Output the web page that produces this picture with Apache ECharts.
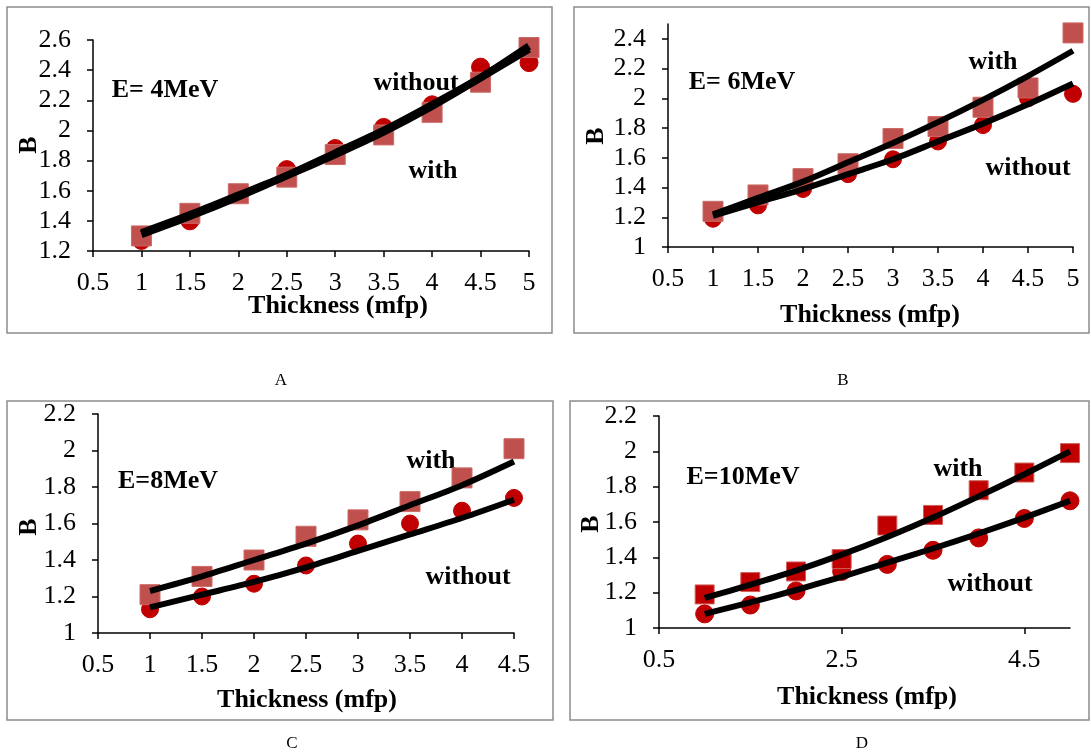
<!DOCTYPE html>
<html>
<head>
<meta charset="utf-8">
<script src="https://cdn.jsdelivr.net/npm/echarts@6/dist/echarts.min.js"></script>
<style>
  html, body { margin: 0; padding: 0; background: #fff; }
  #main { width: 1091px; height: 754px; }
</style>
</head>
<body>
<div id="main"></div>
<script>
// thickness values (mfp)
var thick9 = [1, 1.5, 2, 2.5, 3, 3.5, 4, 4.5, 5];
var thick8 = [1, 1.5, 2, 2.5, 3, 3.5, 4, 4.5];

// A: E = 4 MeV
var withA = [1.30, 1.45, 1.58, 1.69, 1.84, 1.97, 2.12, 2.32, 2.55];
var withoutA = [1.27, 1.40, 1.58, 1.74, 1.88, 2.02, 2.17, 2.42, 2.45];
var fitWithA = [1.32, 1.44, 1.57, 1.70, 1.84, 1.99, 2.16, 2.35, 2.56];
var fitWithoutA = [1.31, 1.43, 1.56, 1.70, 1.85, 2.00, 2.17, 2.35, 2.54];

// B: E = 6 MeV
var withB = [1.24, 1.35, 1.46, 1.56, 1.73, 1.81, 1.94, 2.07, 2.44];
var withoutB = [1.19, 1.28, 1.39, 1.49, 1.59, 1.71, 1.82, 2.00, 2.03];
var fitWithB = [1.22, 1.33, 1.44, 1.57, 1.70, 1.84, 1.99, 2.15, 2.32];
var fitWithoutB = [1.21, 1.30, 1.39, 1.49, 1.59, 1.71, 1.83, 1.96, 2.10];

// C: E = 8 MeV
var withC = [1.21, 1.31, 1.40, 1.53, 1.62, 1.72, 1.85, 2.01];
var withoutC = [1.13, 1.20, 1.27, 1.37, 1.49, 1.60, 1.67, 1.74];
var fitWithC = [1.23, 1.31, 1.40, 1.49, 1.59, 1.70, 1.81, 1.94];
var fitWithoutC = [1.14, 1.21, 1.28, 1.36, 1.45, 1.54, 1.63, 1.73];

// D: E = 10 MeV
var withD = [1.19, 1.26, 1.32, 1.39, 1.58, 1.64, 1.78, 1.88, 1.99];
var withoutD = [1.08, 1.13, 1.21, 1.32, 1.36, 1.44, 1.51, 1.62, 1.72];
var fitWithD = [1.17, 1.245, 1.325, 1.415, 1.515, 1.625, 1.745, 1.87, 2.00];
var fitWithoutD = [1.08, 1.145, 1.215, 1.29, 1.37, 1.45, 1.535, 1.625, 1.72];

// tick labels
var yTicksB = [1, 1.2, 1.4, 1.6, 1.8, 2, 2.2, 2.4];
var xTicksD = [0.5, 2.5, 4.5];

var serif = 'Liberation Serif';
var tickFont = 26;

function zip(xs, ys) {
    return xs.map(function (x, i) { return [x, ys[i]]; });
}

function xAx(idx, max, extra) {
    var ax = {
        type: 'value', gridIndex: idx, min: 0.5, max: max, interval: 0.5,
        splitLine: {show: false},
        axisLine: {onZero: false, lineStyle: {color: '#000', width: 1.5}},
        axisTick: {length: 6, lineStyle: {color: '#000', width: 1.5}},
        axisLabel: {color: '#000', fontFamily: serif, fontSize: tickFont, margin: 19}
    };
    return Object.assign(ax, extra || {});
}

function yAx(idx, min, max, extra) {
    var ax = {
        type: 'value', gridIndex: idx, min: min, max: max, interval: 0.2,
        splitLine: {show: false},
        axisLine: {show: true, onZero: false, lineStyle: {color: '#000', width: 1.5}},
        axisTick: {show: true, length: 6, lineStyle: {color: '#000', width: 1.5}},
        axisLabel: {color: '#000', fontFamily: serif, fontSize: tickFont, margin: 22}
    };
    return Object.assign(ax, extra || {});
}

function pts(idx, xs, ys, shape, size, color, border, z) {
    return {
        type: 'scatter', xAxisIndex: idx, yAxisIndex: idx, z: z,
        symbol: shape, symbolSize: size, data: zip(xs, ys),
        itemStyle: {color: color, borderColor: border, borderWidth: 1, opacity: 1},
        silent: true
    };
}

function fit(idx, xs, ys, w) {
    return {
        type: 'line', xAxisIndex: idx, yAxisIndex: idx, z: 5,
        data: zip(xs, ys), smooth: 0.3, showSymbol: false,
        lineStyle: {color: '#000', width: w, cap: 'butt'},
        silent: true
    };
}

function txt(x, y, s, size, weight, rot) {
    return {
        type: 'text', x: x, y: y, rotation: rot || 0,
        style: {
            text: s, fill: '#000', font: (weight || 'bold') + ' ' + size + 'px "' + serif + '"',
            textAlign: 'center', textVerticalAlign: 'middle'
        }
    };
}

function box(x1, y1, x2, y2) {
    return {
        type: 'rect', shape: {x: x1, y: y1, width: x2 - x1, height: y2 - y1},
        style: {fill: 'none', stroke: '#8c8c8c', lineWidth: 1.5}
    };
}

var sq = '#c0504d', dot = '#c00000';

var chart = echarts.init(document.getElementById('main'));
var option = {
    animation: false,
    backgroundColor: '#fff',
    grid: [
        {left: 93, top: 40, width: 436, height: 211},
        {left: 668, top: 24, width: 405, height: 223},
        {left: 98, top: 414, width: 416, height: 219},
        {left: 659, top: 416, width: 411, height: 212}
    ],
    xAxis: [
        xAx(0, 5),
        xAx(1, 5),
        xAx(2, 4.5),
        xAx(3, 5, {
            interval: 2,
            axisTick: {length: 6, customValues: xTicksD, lineStyle: {color: '#000', width: 1.5}},
            axisLabel: {color: '#000', fontFamily: serif, fontSize: tickFont, margin: 19, customValues: xTicksD}
        })
    ],
    yAxis: [
        yAx(0, 1.2, 2.6),
        yAx(1, 1, 2.5, {
            axisTick: {show: true, length: 6, customValues: yTicksB, lineStyle: {color: '#000', width: 1.5}},
            axisLabel: {color: '#000', fontFamily: serif, fontSize: tickFont, margin: 22, customValues: yTicksB}
        }),
        yAx(2, 1, 2.2),
        yAx(3, 1, 2.2)
    ],
    series: [
        pts(0, thick9, withoutA, 'circle', 18, dot, dot, 2),
        pts(0, thick9, withA, 'rect', 20, sq, '#cc6a67', 3),
        fit(0, thick9, fitWithA, 7.5),
        fit(0, thick9, fitWithoutA, 7.5),

        pts(1, thick9, withoutB, 'circle', 17, dot, dot, 2),
        pts(1, thick9, withB, 'rect', 20, sq, '#cc6a67', 3),
        fit(1, thick9, fitWithB, 6),
        fit(1, thick9, fitWithoutB, 6),

        pts(2, thick8, withoutC, 'circle', 17, dot, dot, 2),
        pts(2, thick8, withC, 'rect', 20, sq, '#cc6a67', 3),
        fit(2, thick8, fitWithC, 6),
        fit(2, thick8, fitWithoutC, 6),

        pts(3, thick9, withoutD, 'circle', 18, dot, dot, 2),
        pts(3, thick9, withD, 'rect', 19, dot, '#d0605c', 3),
        fit(3, thick9, fitWithD, 6),
        fit(3, thick9, fitWithoutD, 6)
    ],
    graphic: [
        box(7, 7, 552, 333),
        box(574, 7, 1089, 333),
        box(7, 401, 553, 720),
        box(570, 401, 1089, 720),

        txt(338, 306, 'Thickness (mfp)', 26),
        txt(29, 145, 'B', 26, 'bold', Math.PI / 2),
        txt(165, 90, 'E= 4MeV', 26),
        txt(416, 83, 'without', 26),
        txt(433, 171, 'with', 26),

        txt(870, 315, 'Thickness (mfp)', 26),
        txt(596, 136, 'B', 26, 'bold', Math.PI / 2),
        txt(742, 82, 'E= 6MeV', 26),
        txt(993, 62, 'with', 26),
        txt(1028, 168, 'without', 26),

        txt(307, 700, 'Thickness (mfp)', 26),
        txt(29, 527, 'B', 26, 'bold', Math.PI / 2),
        txt(168, 481, 'E=8MeV', 26),
        txt(431, 461, 'with', 26),
        txt(468, 577, 'without', 26),

        txt(867, 697, 'Thickness (mfp)', 26),
        txt(591, 524, 'B', 26, 'bold', Math.PI / 2),
        txt(743, 477, 'E=10MeV', 26),
        txt(958, 469, 'with', 26),
        txt(990, 584, 'without', 26),

        txt(281, 381, 'A', 17, 'normal'),
        txt(843, 381, 'B', 17, 'normal'),
        txt(292, 744, 'C', 17, 'normal'),
        txt(862, 744, 'D', 17, 'normal')
    ]
};
chart.setOption(option);
</script>
</body>
</html>
